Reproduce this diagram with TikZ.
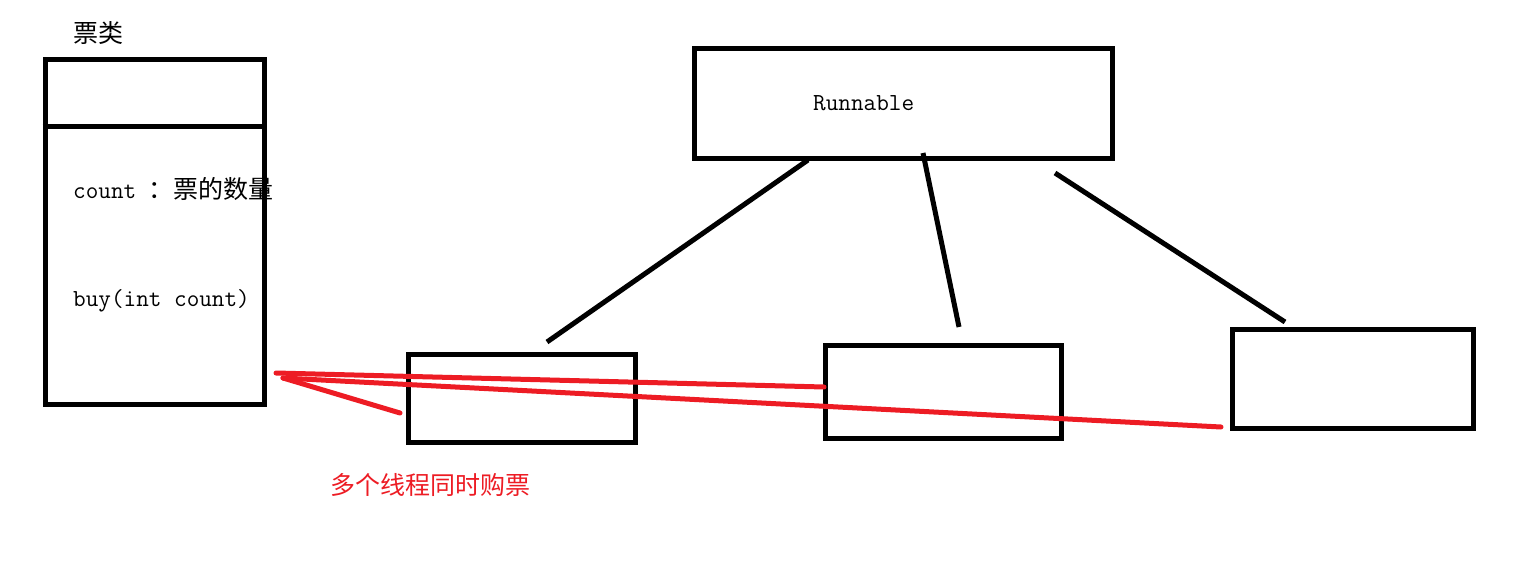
\documentclass[tikz,border=0pt]{standalone}
\usepackage{fontspec}
\newfontfamily\cjk{Noto Sans CJK SC}
\definecolor{pred}{HTML}{ED1C24}
\begin{document}
\begin{tikzpicture}[x=1pt,y=-1pt,
  box/.style={draw,line width=5pt,inner sep=0pt},
  blk/.style={line width=5pt},
  redl/.style={draw=pred,line width=5pt,line cap=round},
  mono/.style={font=\fontsize{24.5}{27}\selectfont\ttfamily,inner sep=0pt},
  cjkt/.style={font=\fontsize{25}{28}\selectfont\cjk,inner sep=0pt}]
\useasboundingbox (0,0) rectangle (1530,572);
% boxes
\node[box,minimum width=219pt,minimum height=344pt] (ticket) at (154.5,232) {};
\node[box,minimum width=418pt,minimum height=110pt] (run) at (903,104) {};
\node[box,minimum width=227pt,minimum height=88pt] (t1) at (521.5,398) {};
\node[box,minimum width=236pt,minimum height=93pt] (t2) at (943,391.5) {};
\node[box,minimum width=241pt,minimum height=99pt] (t3) at (1352.5,378.5) {};
\draw[blk] (ticket.west |- 0,127) -- (ticket.east |- 0,127);
% texts
\node[cjkt,anchor=west] (title) at (73,33) {票类};
\node[anchor=west,inner sep=0pt] (cnt) at (73,189) {\fontsize{24.5}{27}\selectfont\ttfamily count \fontsize{25}{28}\selectfont\cjk ：票的数量};
\node[mono,anchor=west] (buy) at (73,301) {buy(int count)};
\node[mono,anchor=west] (rtxt) at (813,103) {Runnable};
\node[cjkt,text=pred] (lbl) at (430,485) {多个线程同时购票};
% black connectors
\coordinate (a1) at (808,160); \coordinate (b1) at (547,342);
\coordinate (a2) at (923,153); \coordinate (b2) at (959,327);
\coordinate (a3) at (1055,173); \coordinate (b3) at (1285,322);
\draw[blk] (a1) -- (b1);
\draw[blk] (a2) -- (b2);
\draw[blk] (a3) -- (b3);
% red lines
\coordinate (tip) at (276,373);
\coordinate (tip2) at (283,378);
\coordinate (e1) at (824,387);
\coordinate (e2) at (1221,427);
\coordinate (e3) at (400,413);
\draw[redl] (tip) -- (e1);
\draw[redl] (tip2) -- (e2);
\draw[redl] (tip2) -- (e3);
\end{tikzpicture}
\end{document}
